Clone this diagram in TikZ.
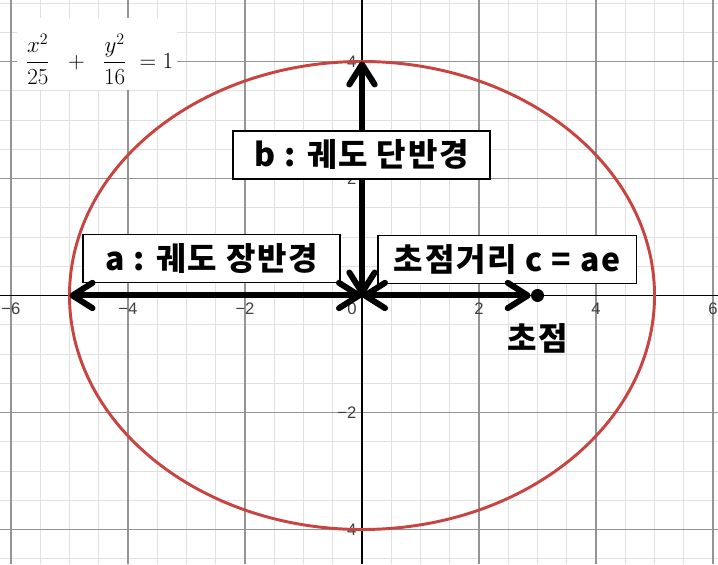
\documentclass[tikz,border=0pt]{standalone}
\usepackage{fontspec}
\setsansfont{Liberation Sans}
\newfontfamily\kr{Noto Sans CJK KR}[LetterSpace=5]
\usetikzlibrary{arrows.meta}
\definecolor{curvered}{HTML}{C74440}
\begin{document}
\begin{tikzpicture}[x=43.875pt,y=43.875pt,
  minorgrid/.style={draw=black!12, line width=0.7pt},
  majorgrid/.style={draw=black!42, line width=0.8pt},
  axisline/.style={draw=black, line width=1.1pt},
  ticklabel/.style={font=\fontsize{12.5}{14}\selectfont\sffamily, text=black!75, inner sep=1pt},
  curve/.style={draw=curvered, line width=2.2pt},
  bigarrow/.style={draw=black, line width=4.5pt, >={Straight Barb[length=15pt,width=19pt,line cap=round,line join=round]}, <->},
  labelbox/.style={draw=black, fill=white, line width=0.8pt, minimum width=192.75pt, minimum height=36pt, inner sep=0pt, font=\kr\bfseries\fontsize{24}{27}\selectfont},
  focuslabel/.style={inner sep=0pt, font=\kr\bfseries\fontsize{24}{27}\selectfont},
  focusdot/.style={circle, fill=black, minimum size=9.75pt, inner sep=0pt}
]
\useasboundingbox[fill=white] (-6.188,-4.590) rectangle (6.085,5.051);
% grid
\foreach \i in {-12,...,12} \draw[minorgrid] ({\i*0.5},-4.590) -- ({\i*0.5},5.051);
\foreach \j in {-9,...,10} \draw[minorgrid] (-6.188,{\j*0.5}) -- (6.085,{\j*0.5});
\foreach \x in {-6,-4,-2,2,4,6} \draw[majorgrid] (\x,-4.590) -- (\x,5.051);
\foreach \y in {-4,-2,2,4} \draw[majorgrid] (-6.188,\y) -- (6.085,\y);
% axes
\draw[axisline] (-6.188,0) -- (6.085,0);
\draw[axisline] (0,-4.590) -- (0,5.051);
% tick labels
\foreach \x/\t in {-6/−6,-4/−4,-2/−2,2/2,4/4,6/6} \node[ticklabel] (tx\x) at (\x,-0.23) {\t};
\node[ticklabel] (t0) at (-0.17,-0.23) {0};
\foreach \y/\t in {-4/−4,-2/−2,2/2,4/4} \node[ticklabel, anchor=east] (ty\y) at (-0.07,\y) {\t};
% ellipse
\draw[curve] (0,0) ellipse [x radius=5, y radius=4];
% equation
\fill[white] (-5.897,3.513) rectangle (-3.162,4.744);
\node[inner sep=0pt, font=\fontsize{17}{20}\selectfont] (eq) at (-4.489,4.04) {$\displaystyle\frac{x^2}{25}\;\;+\;\;\frac{y^2}{16}\;=1$};
% points
\coordinate (O) at (0,0);
\coordinate (A) at (-5,0);
\coordinate (B) at (0,4);
\node[focusdot] (F) at (3,0) {};
% arrows
\draw[bigarrow] (O) -- (B);
\node[labelbox] (lb) at (-0.009,2.402) {b : 궤도 단반경};
\node[labelbox] (la) at (-2.573,0.632) {a : 궤도 장반경};
\node[labelbox, minimum width=193.5pt] (lc) at (2.479,0.615) {초점거리 c = ae};
\draw[bigarrow] (A) -- (O);
\draw[bigarrow] (O) -- (F);
\node[focuslabel] (fl) at (3.009,-0.74) {초점};
\end{tikzpicture}
\end{document}
